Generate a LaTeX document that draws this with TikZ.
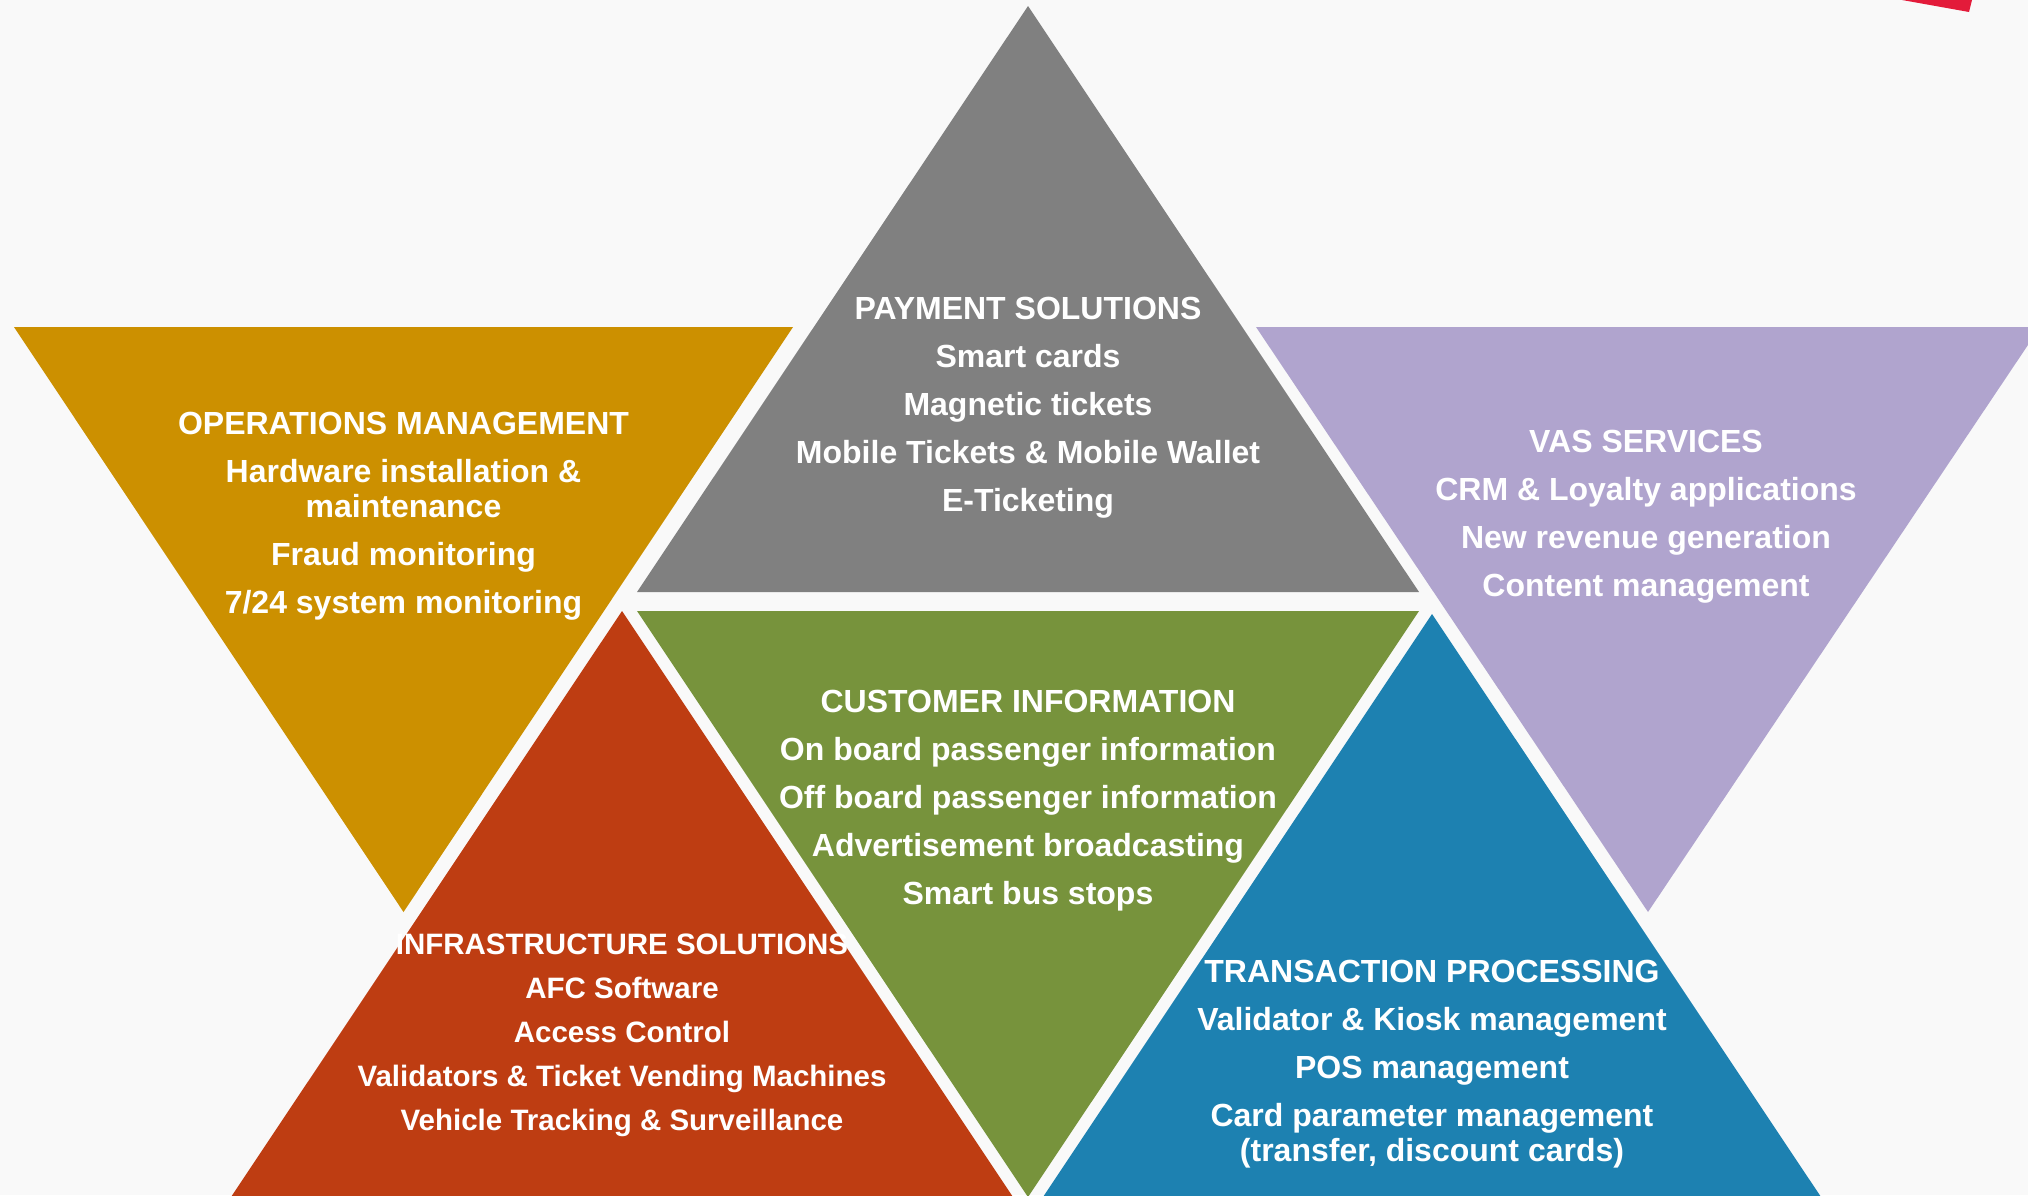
\documentclass[tikz,border=0pt]{standalone}
\usepackage{fontspec}
\setmainfont{Liberation Sans}
\definecolor{bgc}{HTML}{F9F9F9}
\definecolor{opsc}{HTML}{CC9000}
\definecolor{payc}{HTML}{808080}
\definecolor{vasc}{HTML}{B0A4CE}
\definecolor{cusc}{HTML}{77933C}
\definecolor{infc}{HTML}{BE3D12}
\definecolor{trac}{HTML}{1D81B1}
\definecolor{accc}{HTML}{E31B3A}
\begin{document}
\begin{tikzpicture}[x=0.5pt,y=-0.5pt,
  lbl/.style={text=white,font=\bfseries\fontsize{16}{24}\selectfont,align=center,inner sep=0pt},
  lblsmall/.style={text=white,font=\bfseries\fontsize{14.75}{22}\selectfont,align=center,inner sep=0pt}]
\useasboundingbox (0,0) rectangle (2028,1195);
\fill[bgc] (0,0) rectangle (2028,1195);
\clip (0,0) rectangle (2028,1195);
% accent at top right
\fill[accc] (1902,0) -- (1972,0) -- (1969,12) -- cycle;
% triangles
\fill[payc] (1028,6) -- (637,592) -- (1419,592) -- cycle;
\fill[opsc] (14,327) -- (793,327) -- (403.5,912) -- cycle;
\fill[vasc] (1256,327) -- (2040,327) -- (1648,912) -- cycle;
\fill[cusc] (637,611) -- (1419,611) -- (1028,1197) -- cycle;
\fill[infc] (622,611) -- (231,1197) -- (1013,1197) -- cycle;
\fill[trac] (1432,614) -- (1041,1200) -- (1823,1200) -- cycle;
% labels
\node[lbl] (pay) at (1028,408) {PAYMENT SOLUTIONS\\Smart cards\\Magnetic tickets\\Mobile Tickets \& Mobile Wallet\\E-Ticketing};
\node[lbl] (ops) at (403.5,516) {OPERATIONS MANAGEMENT\\Hardware installation \&\\[-6.5pt]maintenance\\Fraud monitoring\\7/24 system monitoring};
\node[lbl] (vas) at (1646,517) {VAS SERVICES\\CRM \& Loyalty applications\\New revenue generation\\Content management};
\node[lbl] (cus) at (1028,801) {CUSTOMER INFORMATION\\On board passenger information\\Off board passenger information\\Advertisement broadcasting\\Smart bus stops};
\node[lblsmall] (inf) at (622,1035) {INFRASTRUCTURE SOLUTIONS\\AFC Software\\Access Control\\Validators \& Ticket Vending Machines\\Vehicle Tracking \& Surveillance};
\node[lbl] (tra) at (1432,1064) {TRANSACTION PROCESSING\\Validator \& Kiosk management\\POS management\\Card parameter management\\[-6.5pt](transfer, discount cards)};
\end{tikzpicture}
\end{document}
